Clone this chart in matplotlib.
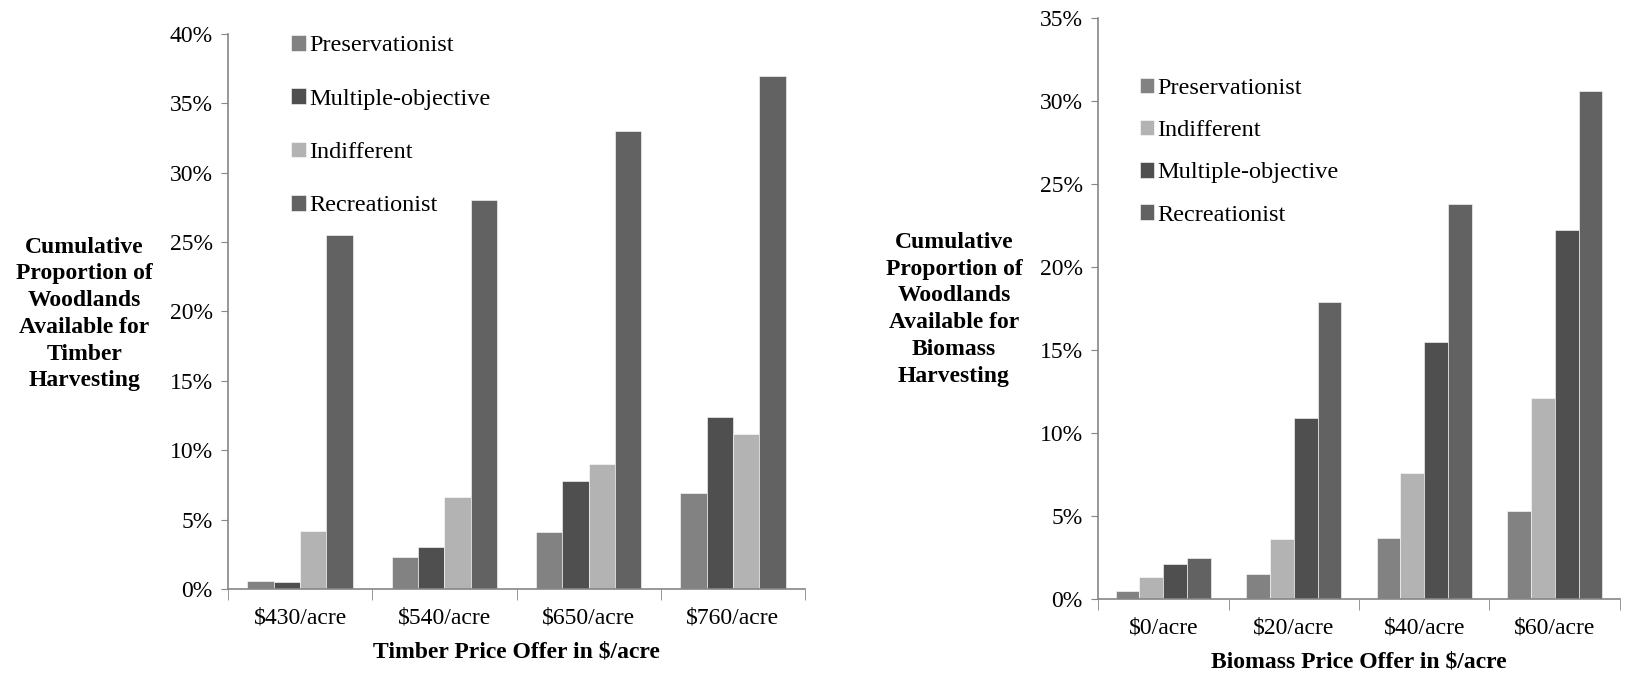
import numpy as np
import matplotlib.pyplot as plt
from matplotlib.ticker import FuncFormatter, FixedLocator

plt.rcParams['font.family'] = ['Liberation Serif', 'DejaVu Serif']

# timber chart data (percent)
timber_cats = ['$430/acre', '$540/acre', '$650/acre', '$760/acre']
timber_series = ['Preservationist', 'Multiple-objective', 'Indifferent', 'Recreationist']
timber_pres = [0.6, 2.3, 4.1, 6.9]
timber_multi = [0.5, 3.0, 7.8, 12.4]
timber_indiff = [4.2, 6.6, 9.0, 11.2]
timber_recr = [25.5, 28.0, 33.0, 37.0]

# biomass chart data (percent)
biomass_cats = ['$0/acre', '$20/acre', '$40/acre', '$60/acre']
biomass_series = ['Preservationist', 'Indifferent', 'Multiple-objective', 'Recreationist']
biomass_pres = [0.5, 1.5, 3.7, 5.3]
biomass_indiff = [1.3, 3.6, 7.6, 12.1]
biomass_multi = [2.1, 10.9, 15.5, 22.2]
biomass_recr = [2.5, 17.9, 23.8, 30.6]

colors = {'Preservationist': '#828282', 'Multiple-objective': '#4f4f4f',
          'Indifferent': '#b3b3b3', 'Recreationist': '#626262'}
axis_col = '#868686'
FS = 17


def draw_panel(ax, cats, series, values, ymax, xlabel):
    x = np.arange(len(cats))
    bw = 0.73 / len(series)
    for i, (name, vals) in enumerate(zip(series, values)):
        off = (i - (len(series) - 1) / 2) * bw
        ax.bar(x + off, vals, bw, color=colors[name], label=name,
               edgecolor='white', linewidth=0.4)
    ax.set_xlim(-0.5, len(cats) - 0.5)
    ax.set_ylim(0, ymax)
    ax.set_yticks(np.arange(0, ymax + 0.1, 5))
    ax.yaxis.set_major_formatter(FuncFormatter(lambda v, p: f'{v:.0f}%'))
    ax.set_xticks(x)
    ax.set_xticklabels(cats)
    ax.xaxis.set_minor_locator(FixedLocator(np.arange(-0.5, len(cats), 1.0)))
    ax.tick_params(axis='x', which='major', length=0, pad=13, labelsize=FS)
    ax.tick_params(axis='x', which='minor', length=8, color=axis_col, direction='out')
    ax.tick_params(axis='y', length=5, color=axis_col, labelsize=FS, pad=6)
    for s in ['top', 'right']:
        ax.spines[s].set_visible(False)
    for s in ['left', 'bottom']:
        ax.spines[s].set_color(axis_col)
        ax.spines[s].set_linewidth(1.2)
    ax.set_xlabel(xlabel, fontsize=FS, fontweight='bold', labelpad=10)


fig = plt.figure(figsize=(16.25, 6.78), dpi=100)

ax1 = fig.add_axes([0.1403, 0.1313, 0.3551, 0.8186])
draw_panel(ax1, timber_cats, timber_series,
           [timber_pres, timber_multi, timber_indiff, timber_recr],
           40, 'Timber Price Offer in $/acre')
ax1.legend(loc='upper left', bbox_to_anchor=(0.11, 0.998), frameon=False,
           fontsize=17.5, handlelength=0.6, handleheight=0.6, handletextpad=0.12,
           labelspacing=1.32, borderpad=0, borderaxespad=0)
fig.text(0.052, 0.537, 'Cumulative\nProportion of\nWoodlands\nAvailable for\nTimber\nHarvesting',
         ha='center', va='center', fontsize=FS, fontweight='bold', linespacing=1.36)

ax2 = fig.add_axes([0.6757, 0.1165, 0.3212, 0.857])
draw_panel(ax2, biomass_cats, biomass_series,
           [biomass_pres, biomass_indiff, biomass_multi, biomass_recr],
           35, 'Biomass Price Offer in $/acre')
ax2.legend(loc='upper left', bbox_to_anchor=(0.08, 0.897), frameon=False,
           fontsize=17.5, handlelength=0.6, handleheight=0.6, handletextpad=0.12,
           labelspacing=0.86, borderpad=0, borderaxespad=0)
fig.text(0.587, 0.544, 'Cumulative\nProportion of\nWoodlands\nAvailable for\nBiomass\nHarvesting',
         ha='center', va='center', fontsize=FS, fontweight='bold', linespacing=1.36)

fig.savefig('out.png', dpi=100)
